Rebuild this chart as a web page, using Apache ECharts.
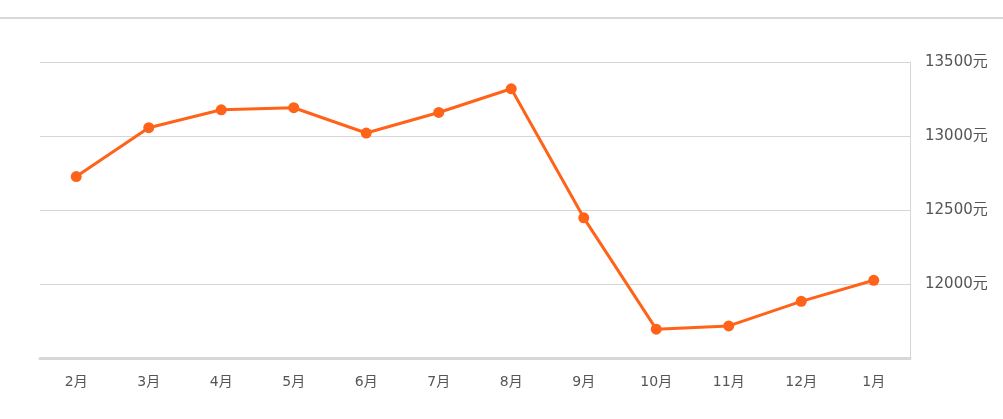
<!DOCTYPE html>
<html>
<head>
<meta charset="utf-8">
<style>html,body{margin:0;padding:0;background:#fff;}#c{width:1003px;height:419px;}</style>
<script src="https://cdn.jsdelivr.net/npm/echarts@6/dist/echarts.min.js"></script>
</head>
<body>
<div id="c"></div>
<script>
const categories = ['2月','3月','4月','5月','6月','7月','8月','9月','10月','11月','12月','1月'];
const prices = [12726, 13056, 13177, 13191, 13020, 13159, 13319, 12447, 11695, 11717, 11883, 12025];
const yUnit = '元';

const chart = echarts.init(document.getElementById('c'));
chart.setOption({
  animation: false,
  backgroundColor: '#fff',
  graphic: [{
    type: 'line', shape: {x1: 0, y1: 18, x2: 1003, y2: 18},
    style: {stroke: '#d9d9d9', lineWidth: 2}
  }],
  grid: {left: 40, right: 93, top: 62, bottom: 61, containLabel: false},
  xAxis: {
    type: 'category',
    data: categories,
    boundaryGap: true,
    axisLine: {lineStyle: {color: '#d6d6d6', width: 3}},
    axisTick: {alignWithLabel: true, length: 5, lineStyle: {color: '#d6d6d6'}},
    axisLabel: {color: '#555', fontSize: 14, margin: 17, fontFamily: 'DejaVu Sans, Noto Sans CJK SC, sans-serif'},
    splitLine: {show: false}
  },
  yAxis: {
    type: 'value',
    position: 'right',
    min: 11500, max: 13500, interval: 500,
    axisLine: {show: true, lineStyle: {color: '#d6d6d6', width: 1}},
    axisTick: {show: false},
    axisLabel: {
      color: '#555', fontSize: 15, margin: 15, showMinLabel: false,
      fontFamily: 'DejaVu Sans, Noto Sans CJK SC, sans-serif',
      formatter: v => v + yUnit
    },
    splitLine: {lineStyle: {color: '#d6d6d6', width: 1}}
  },
  series: [{
    type: 'line',
    data: prices,
    symbol: 'circle',
    symbolSize: 11,
    lineStyle: {color: '#ff631a', width: 3},
    itemStyle: {color: '#ff631a'}
  }]
});
</script>
</body>
</html>
